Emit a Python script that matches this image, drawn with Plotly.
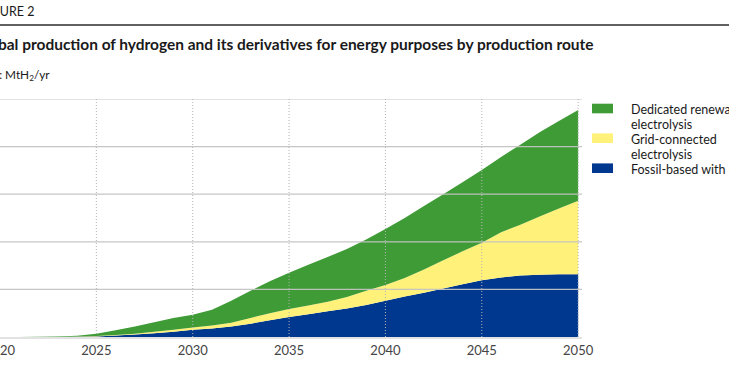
import plotly.graph_objects as go

years = list(range(2020, 2051))
fossil_ccs = [0, 0, 0, 0, 0.3, 1, 3, 5, 8, 11, 15, 18, 22, 28, 35, 42, 48, 54, 60, 67, 76,
              85, 93, 102, 111, 119, 125, 129, 131, 132, 132]
blue_plus_grid = [0, 0, 0, 0.2, 0.8, 2, 4, 7, 11, 15, 20, 24, 30, 40, 50, 59, 66, 74, 84, 97, 109,
                  124, 142, 161, 180, 198, 220, 236, 253, 270, 286]
total = [0, 0.2, 0.5, 1, 2.5, 7, 14, 22, 31, 40, 47, 57, 76, 97, 117, 135, 152, 168, 185, 205, 227,
         250, 275, 300, 325, 351, 378, 404, 430, 454, 477]
grid_connected = [b - f for b, f in zip(blue_plus_grid, fossil_ccs)]
dedicated_renewable = [t - b for t, b in zip(total, blue_plus_grid)]

series_names = ["Fossil-based with CCS", "Grid-connected electrolysis", "Dedicated renewable electrolysis"]
series_values = [fossil_ccs, grid_connected, dedicated_renewable]
series_colors = ["#00388f", "#fff17a", "#3e9b36"]

legend_lines = [["Dedicated renewable", "electrolysis"],
                ["Grid-connected", "electrolysis"],
                ["Fossil-based with CCS"]]
legend_colors = ["#3e9b36", "#fff17a", "#00388f"]

x_ticks = [2020, 2025, 2030, 2035, 2040, 2045, 2050]
y_grid = [100, 200, 300, 400, 500]

fig = go.Figure()
for name, vals, col in zip(series_names, series_values, series_colors):
    fig.add_trace(go.Scatter(x=years, y=vals, name=name, stackgroup="one", mode="none",
                             fillcolor=col, line=dict(width=0), showlegend=False))

FONT = "Lato"
W_PLOT = 582.0
T, B = 99.0, 337.0


def px(x):
    return x / W_PLOT


def py(y):
    return (B - y) / (B - T)


shapes = []
for g in y_grid:
    shapes.append(dict(type="line", xref="paper", yref="y", x0=0, x1=1, y0=g, y1=g,
                       line=dict(color="rgba(195,195,195,0.95)", width=1.2), layer="above"))
for xt in x_ticks[1:]:
    shapes.append(dict(type="line", xref="x", yref="y", x0=xt, x1=xt, y0=0, y1=505,
                       line=dict(color="#b4b4b4", width=1, dash="1px,2px"), layer="above"))
# separator under figure label
shapes.append(dict(type="line", xref="paper", yref="paper", x0=-0.1, x1=1.4, y0=py(25), y1=py(25),
                   line=dict(color="#2b2b2b", width=1.5)))

annotations = [
    dict(text="FIGURE 2", xref="paper", yref="paper", x=px(-22), y=py(12), xanchor="left",
         yanchor="middle", showarrow=False, font=dict(family=FONT, size=12.5, color="#1a1a1a")),
    dict(text="<b>Global production of hydrogen and its derivatives for energy purposes by production route</b>",
         xref="paper", yref="paper", x=px(595.5), y=py(44), xanchor="right", yanchor="middle",
         showarrow=False, font=dict(family=FONT, size=15.48, color="#1a1a1a")),
    dict(text="Unit: MtH<sub>2</sub>/yr", xref="paper", yref="paper", x=px(-25), y=py(75),
         xanchor="left", yanchor="middle", showarrow=False,
         font=dict(family=FONT, size=11.8, color="#1a1a1a")),
]

entry_y = [108.5, 138.2, 168.2]
for lines, col, cy in zip(legend_lines, legend_colors, entry_y):
    shapes.append(dict(type="rect", xref="paper", yref="paper", x0=px(592), x1=px(613),
                       y0=py(cy + 4.8), y1=py(cy - 4.8), fillcolor=col, line=dict(width=0)))
    for i, ln in enumerate(lines):
        annotations.append(dict(text=ln, xref="paper", yref="paper", x=px(629), y=py(cy + 1.2 + 15 * i),
                                xanchor="left", yanchor="middle", showarrow=False,
                                font=dict(family=FONT, size=12.5, color="#1a1a1a")))

fig.update_layout(
    width=729, height=382,
    margin=dict(l=0, r=729 - W_PLOT, t=T, b=382 - B, autoexpand=False),
    paper_bgcolor="white", plot_bgcolor="white",
    font=dict(family=FONT, color="#333"),
    showlegend=False,
    shapes=shapes, annotations=annotations,
    xaxis=dict(range=[2020, 2050.2], tickvals=x_ticks, ticktext=[str(v) for v in x_ticks],
               showgrid=False, zeroline=False, showline=True, linecolor="#e2e2e2", linewidth=2,
               ticks="", tickfont=dict(family=FONT, size=13, color="#444"), automargin=False,
               ticklabeloverflow="allow"),
    yaxis=dict(range=[0, 500], showgrid=False, zeroline=False, showticklabels=False,
               automargin=False, fixedrange=True),
)

fig.write_html("out.html", config={"displayModeBar": False},
               post_script="document.body.style.margin='0px';document.body.style.padding='0px';")
